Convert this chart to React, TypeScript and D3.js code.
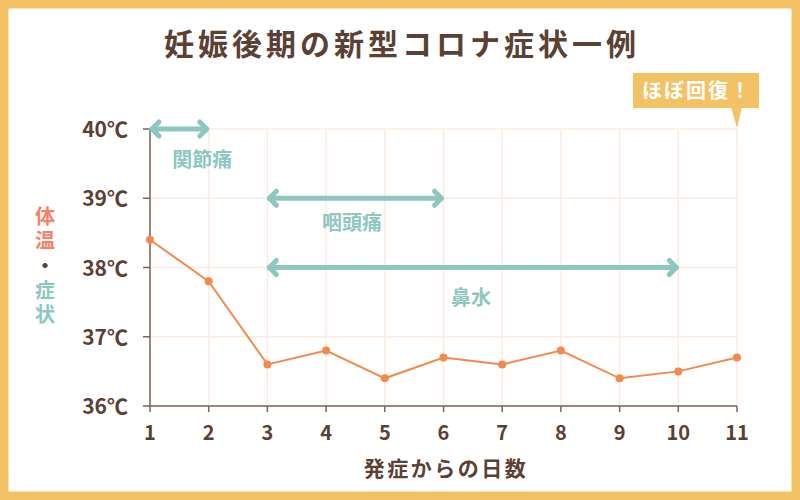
import React from "react";
import * as d3 from "d3";

const days = [1, 2, 3, 4, 5, 6, 7, 8, 9, 10, 11];
const temps = [38.4, 37.8, 36.6, 36.8, 36.4, 36.7, 36.6, 36.8, 36.4, 36.5, 36.7];
const yTicks = [36, 37, 38, 39, 40];
const symptomNames = ["関節痛", "咽頭痛", "鼻水"];
const symptomStart = [1, 3, 3];
const symptomEnd = [2, 6, 10];
const symptomLevel = [40, 39, 38];

const W = 800, H = 500;
const FONT = "'Noto Sans CJK JP', 'Noto Sans', sans-serif";
const BROWN = "#5b4034";
const TEAL = "#8ec7bf";
const ORANGE = "#f28a4e";
const GRID = "#fcebe2";
const GOLD = "#f2c265";

export default function App() {
  const x = d3.scaleLinear().domain([1, 11]).range([150, 737]);
  const y = d3.scaleLinear().domain([36, 40]).range([406, 129]);
  const line = d3.line<number>().x((_, i) => x(days[i])).y((d) => y(d));
  const labelX = [1.89, 4.44, 6.47];
  const labelDy = [38, 32, 37];

  return (
    <svg width={W} height={H} style={{ display: "block", position: "absolute", left: 0, top: 0 }}>
      <rect x={0} y={0} width={W} height={H} fill="#fff" />
      <rect x={4} y={4} width={W - 8} height={H - 8} fill="none" stroke={GOLD} strokeWidth={9} />
      <text x={402} y={55} textAnchor="middle" fontFamily={FONT} fontWeight={700} fontSize={30} letterSpacing={4} fill={BROWN}>
        妊娠後期の新型コロナ症状一例
      </text>
      {/* grid */}
      {days.map((d) => (
        <line key={"gx" + d} x1={x(d)} x2={x(d)} y1={y(40)} y2={y(36)} stroke={GRID} strokeWidth={1.5} />
      ))}
      {yTicks.map((t) => (
        <line key={"gy" + t} x1={x(1)} x2={x(11)} y1={y(t)} y2={y(t)} stroke={GRID} strokeWidth={1.5} />
      ))}
      {/* axes */}
      <line x1={x(1)} x2={x(1)} y1={y(40)} y2={y(36)} stroke="#7a635a" strokeWidth={1.5} />
      <line x1={x(1)} x2={x(11)} y1={y(36)} y2={y(36)} stroke="#7a635a" strokeWidth={1.5} />
      {yTicks.map((t) => (
        <g key={"yt" + t}>
          <line x1={x(1) - 7} x2={x(1)} y1={y(t)} y2={y(t)} stroke="#7a635a" strokeWidth={1.5} />
          <text x={128} y={y(t) + 8} textAnchor="end" fontFamily={FONT} fontWeight={700} fontSize={21} fill={BROWN}>
            {t}℃
          </text>
        </g>
      ))}
      {days.map((d) => (
        <g key={"xt" + d}>
          <line x1={x(d)} x2={x(d)} y1={y(36)} y2={y(36) + 6} stroke="#7a635a" strokeWidth={1.5} />
          <text x={x(d)} y={440} textAnchor="middle" fontFamily={FONT} fontWeight={700} fontSize={20} fill={BROWN}>
            {d}
          </text>
        </g>
      ))}
      <text x={446} y={476} textAnchor="middle" fontFamily={FONT} fontWeight={700} fontSize={21} letterSpacing={2.5} fill={BROWN}>
        発症からの日数
      </text>
      {/* y title (vertical) */}
      <text x={45} y={206} writingMode="vertical-rl" fontFamily={FONT} fontWeight={700} fontSize={20} letterSpacing={4.5}>
        <tspan fill="#f58068">体温</tspan>
        <tspan fill={BROWN}>・</tspan>
        <tspan fill={TEAL}>症状</tspan>
      </text>
      {/* symptom arrows */}
      {symptomNames.map((n, i) => {
        const x1 = x(symptomStart[i]) + 2, x2 = x(symptomEnd[i]) - 2, yy = y(symptomLevel[i]);
        const h = 7;
        return (
          <g key={"s" + i} stroke={TEAL} strokeWidth={5} strokeLinecap="round" strokeLinejoin="round" fill="none">
            <line x1={x1} x2={x2} y1={yy} y2={yy} />
            <polyline points={`${x1 + h},${yy - h} ${x1},${yy} ${x1 + h},${yy + h}`} />
            <polyline points={`${x2 - h},${yy - h} ${x2},${yy} ${x2 - h},${yy + h}`} />
            <text x={x(labelX[i])} y={yy + labelDy[i]} textAnchor="middle" stroke="none"
              fontFamily={FONT} fontWeight={700} fontSize={20} fill={TEAL}>
              {n}
            </text>
          </g>
        );
      })}
      {/* temperature line */}
      <path d={line(temps) || ""} fill="none" stroke={ORANGE} strokeWidth={2} />
      {temps.map((t, i) => (
        <circle key={"p" + i} cx={x(days[i])} cy={y(t)} r={4} fill={ORANGE} />
      ))}
      {/* callout */}
      <rect x={633} y={73} width={126} height={35} fill={GOLD} />
      <polygon points={`${x(11) - 6},107 ${x(11) + 5},107 ${x(11)},128`} fill={GOLD} />
      <text x={697} y={98} textAnchor="middle" fontFamily={FONT} fontWeight={700} fontSize={20} letterSpacing={2} fill="#fff">
        ほぼ回復！
      </text>
    </svg>
  );
}
